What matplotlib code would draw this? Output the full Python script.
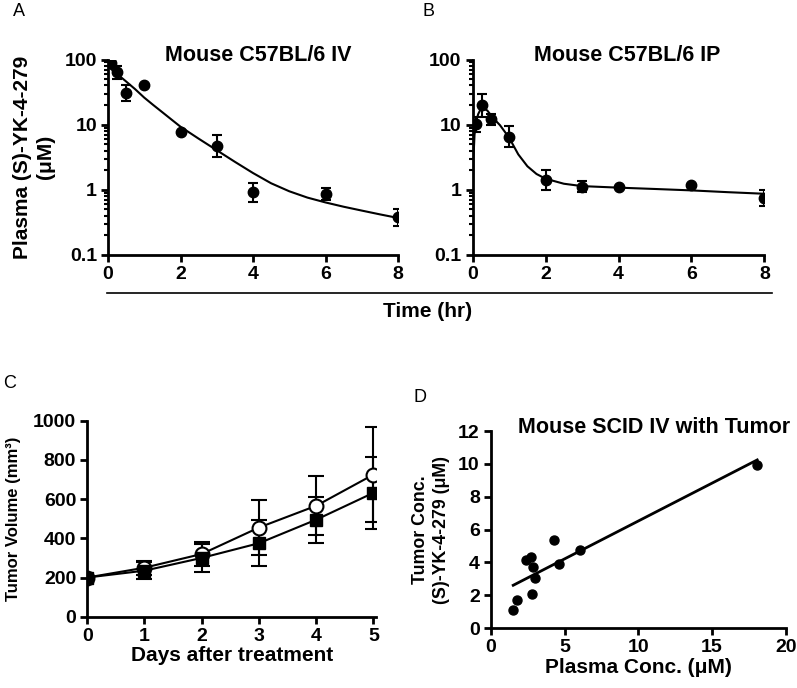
import numpy as np
import matplotlib.pyplot as plt
from matplotlib.lines import Line2D

plt.rcParams['font.family'] = ['Liberation Sans', 'DejaVu Sans']
plt.rcParams['font.weight'] = 'bold'
plt.rcParams['axes.labelweight'] = 'bold'
plt.rcParams['font.size'] = 14

# Panel A - IV
iv_t = [0.083, 0.25, 0.5, 1, 2, 3, 4, 6, 8]
iv_c = [87, 65, 30.8, 40.5, 7.7, 4.7, 0.92, 0.87, 0.38]
iv_lo = [0, 14, 7.8, 0, 0, 1.5, 0.26, 0.18, 0.1]
iv_hi = [0, 15, 9.7, 0, 0, 2.35, 0.37, 0.21, 0.13]
iv_fit_t = [0, 0.25, 0.5, 0.75, 1, 1.25, 1.5, 1.75, 2, 2.5, 3, 3.5, 4, 4.5, 5, 5.5, 6, 6.5, 7, 7.5, 8]
iv_fit_c = [78, 60, 46, 35, 26, 20, 15.5, 12, 9.3, 6.1, 4.05, 2.69, 1.81, 1.26, 0.95, 0.76, 0.64, 0.55, 0.48, 0.42, 0.37]

# Panel B - IP
ip_t = [0.1, 0.25, 0.5, 1, 2, 3, 4, 6, 8]
ip_c = [10.4, 20, 12.2, 6.5, 1.4, 1.1, 1.1, 1.2, 0.75]
ip_lo = [2.7, 6.8, 2.4, 2.0, 0.42, 0.18, 0, 0, 0.19]
ip_hi = [2.8, 10, 2.6, 3.0, 0.6, 0.25, 0, 0, 0.25]
ip_fit_t = [0.005, 0.02, 0.05, 0.1, 0.15, 0.2, 0.3, 0.4, 0.5, 0.6, 0.75, 1, 1.25, 1.5, 1.75, 2, 2.5, 3, 4, 5, 6, 7, 8]
ip_fit_c = [1.0, 3.0, 7, 11.5, 14.5, 16.5, 17.8, 16.5, 14, 12, 9.8, 6.3, 3.5, 2.3, 1.75, 1.48, 1.24, 1.14, 1.08, 1.03, 0.98, 0.92, 0.87]

# Panel C - tumor volume
days = [0, 1, 2, 3, 4, 5]
vol_open = [200, 250, 320, 455, 566, 725]
err_open = [0, 35, 60, 138, 150, 243]
vol_sq = [200, 235, 300, 375, 495, 632]
err_sq = [0, 45, 70, 117, 117, 183]

# Panel D - tumor vs plasma
plasma = [1.51, 1.74, 2.37, 2.71, 2.87, 2.76, 2.98, 4.29, 4.61, 6.03, 18.06]
tumor = [1.12, 1.73, 4.12, 4.32, 3.72, 2.05, 3.05, 5.34, 3.88, 4.73, 9.95]

fig = plt.figure(figsize=(7.97, 6.88), dpi=100)


def style_axes(ax):
    for s in ['top', 'right']:
        ax.spines[s].set_visible(False)
    for s in ['left', 'bottom']:
        ax.spines[s].set_linewidth(2)
    ax.tick_params(which='major', width=2, length=5, labelsize=14, pad=3)
    ax.tick_params(which='minor', width=1.5, length=3)
    for lab in ax.get_xticklabels() + ax.get_yticklabels():
        lab.set_fontweight('bold')


def log_panel(ax, t, c, lo, hi, ft, fc, title, tx):
    ax.plot(ft, fc, color='black', lw=1.5)
    ax.errorbar(t, c, yerr=[lo, hi], fmt='o', color='black', ms=7.5,
                ecolor='black', elinewidth=1.5, capsize=3.5, capthick=1.5)
    ax.set_yscale('log')
    ax.set_ylim(0.1, 100)
    ax.set_xlim(0, 8)
    ax.set_xticks([0, 2, 4, 6, 8])
    ax.set_yticks([0.1, 1, 10, 100])
    ax.set_yticklabels(['0.1', '1', '10', '100'])
    ax.text(tx, 1.02, title, transform=ax.transAxes, ha='center', va='center',
            fontsize=15.5, fontweight='bold')
    style_axes(ax)


axA = fig.add_axes([0.1355, 0.6294, 0.3639, 0.2841])
log_panel(axA, iv_t, iv_c, iv_lo, iv_hi, iv_fit_t, iv_fit_c, 'Mouse C57BL/6 IV', 0.517)
axA.set_ylabel('Plasma (S)-YK-4-279\n(μM)', fontsize=15, linespacing=1.25, labelpad=7)

axB = fig.add_axes([0.5931, 0.6294, 0.3659, 0.2841])
log_panel(axB, ip_t, ip_c, ip_lo, ip_hi, ip_fit_t, ip_fit_c, 'Mouse C57BL/6 IP', 0.53)

fig.add_artist(Line2D([107 / 797, 772 / 797], [1 - 293 / 688, 1 - 293 / 688],
                      color='black', lw=1.2))
fig.text(428 / 797, 1 - 312 / 688, 'Time (hr)', ha='center', va='center',
         fontsize=15, fontweight='bold')

# Panel C
axC = fig.add_axes([0.1095, 0.1036, 0.3626, 0.2849])
axC.errorbar(days, vol_open, yerr=err_open, fmt='-o', color='black', mfc='white',
             ms=10, mew=1.5, lw=1.5, elinewidth=1.5, capsize=6, capthick=1.5)
axC.errorbar(days, vol_sq, yerr=err_sq, fmt='-s', color='black', ms=9,
             lw=1.5, elinewidth=1.5, capsize=6, capthick=1.5)
axC.set_xlim(0, 5.05)
axC.set_ylim(0, 1000)
axC.set_xticks(days)
axC.set_yticks(range(0, 1001, 200))
axC.set_xlabel('Days after treatment', fontsize=15, labelpad=1)
axC.set_ylabel('Tumor Volume (mm³)', fontsize=12, labelpad=9)
style_axes(axC)

# Panel D
axD = fig.add_axes([0.616, 0.0872, 0.37, 0.2863])
axD.plot(plasma, tumor, 'o', color='black', ms=6.5)
slope, icpt = np.polyfit(plasma, tumor, 1)
xl = np.array([min(plasma), max(plasma)])
axD.plot(xl, slope * xl + icpt, color='black', lw=2)
axD.set_xlim(0, 20)
axD.set_ylim(0, 12)
axD.set_xticks([0, 5, 10, 15, 20])
axD.set_yticks(range(0, 13, 2))
axD.set_xlabel('Plasma Conc. (μM)', fontsize=15, labelpad=1)
axD.set_ylabel('Tumor Conc.\n(S)-YK-4-279 (μM)', fontsize=12.8, linespacing=1.3, labelpad=6)
axD.text(0.553, 1.02, 'Mouse SCID IV with Tumor', transform=axD.transAxes,
         ha='center', va='center', fontsize=15.5, fontweight='bold')
style_axes(axD)

for lab, x, y in [('A', 19, 11), ('B', 428, 11), ('C', 10, 384), ('D', 420, 397)]:
    fig.text(x / 797, 1 - y / 688, lab, ha='center', va='center', fontsize=13,
             fontweight='normal')

fig.savefig('out.png', dpi=100)
